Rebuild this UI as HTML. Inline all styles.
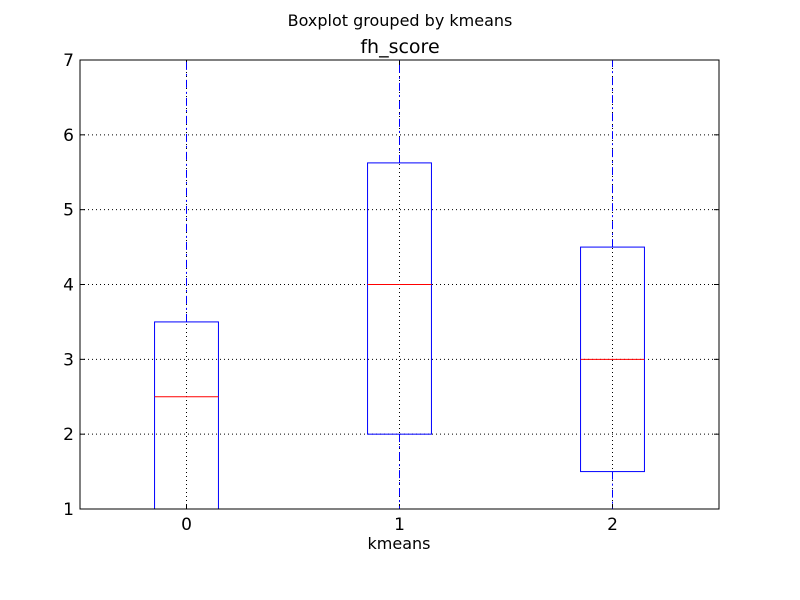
<!DOCTYPE html>
<html><head><meta charset="utf-8"><style>body{margin:0;background:#fff}svg{display:block}text{font-family:"DejaVu Sans","Liberation Sans",sans-serif}</style></head>
<body>
<svg id="c" width="800" height="600">
<rect width="800" height="600" fill="#fff"/>
<text x="400" y="26" font-size="16" text-anchor="middle">Boxplot grouped by kmeans</text>
<text x="400" y="53" font-size="19" text-anchor="middle">fh_score</text>
<text x="399" y="549" font-size="16" text-anchor="middle">kmeans</text>
<g id="g"></g>
</svg>
<script>
const categories=["0","1","2"];
const q1=[1,2,1.5];
const q3=[3.5,5.625,4.5];
const medians=[2.5,4,3];
const whiskLo=[1,1,1];
const whiskHi=[7,7,7];
const yTicks=[1,2,3,4,5,6,7];
const L=80,R=719,T=60,B=509;
const x=i=>L+(i+0.5)*(R-L)/3;
const y=v=>B-(v-1)*(B-T)/6;
const g=document.getElementById('g');
function add(tag,a,name){const e=document.createElementNS('http://www.w3.org/2000/svg',tag);for(const k in a)e.setAttribute(k,a[k]);


g.appendChild(e);return e;}
yTicks.forEach(v=>{
 add('line',{x1:L,x2:R,y1:y(v),y2:y(v),stroke:'#000','stroke-dasharray':'1,3','stroke-width':1},'y-grid-line');
});
categories.forEach((c,i)=>{
 add('line',{x1:x(i),x2:x(i),y1:T,y2:B,stroke:'#000','stroke-dasharray':'1,3'},'x-grid-line');
});
yTicks.forEach(v=>{
 add('line',{x1:L,x2:L+5,y1:y(v),y2:y(v),stroke:'#000'},'y-tick');
 add('line',{x1:R,x2:R-5,y1:y(v),y2:y(v),stroke:'#000'},'y-tick-right');
 const t=add('text',{x:L-6,y:y(v)+6,'font-size':17,'text-anchor':'end'},'y-tick-label');t.textContent=v;
});
const hw=(R-L)/3*0.15, cw=hw/2;
categories.forEach((c,i)=>{
 const cx=x(i);
 add('line',{x1:cx,x2:cx,y1:B,y2:B-5,stroke:'#000'},'x-tick');
 add('line',{x1:cx,x2:cx,y1:T,y2:T+5,stroke:'#000'},'x-tick-top');
 const t=add('text',{x:cx,y:B+21,'font-size':17,'text-anchor':'middle'},'x-tick-label');t.textContent=c;
 add('line',{x1:cx,x2:cx,y1:y(q3[i]),y2:y(whiskHi[i]),stroke:'#00f','stroke-dasharray':'8,4,2,4'},'whisker-upper');
 add('line',{x1:cx,x2:cx,y1:y(q1[i]),y2:y(whiskLo[i]),stroke:'#00f','stroke-dasharray':'8,4,2,4'},'whisker-lower');
 add('line',{x1:cx-cw,x2:cx+cw,y1:y(whiskHi[i]),y2:y(whiskHi[i]),stroke:'#000'},'cap-upper');
 add('line',{x1:cx-cw,x2:cx+cw,y1:y(whiskLo[i]),y2:y(whiskLo[i]),stroke:'#000'},'cap-lower');
 add('rect',{x:cx-hw,y:y(q3[i]),width:2*hw,height:y(q1[i])-y(q3[i]),fill:'none',stroke:'#00f'},'box-'+c);
 add('line',{x1:cx-hw,x2:cx+hw,y1:y(medians[i]),y2:y(medians[i]),stroke:'#f00'},'median-'+c);
});
add('rect',{x:L,y:T,width:R-L,height:B-T,fill:'none',stroke:'#000'},'plot-frame');
</script>
</body></html>
